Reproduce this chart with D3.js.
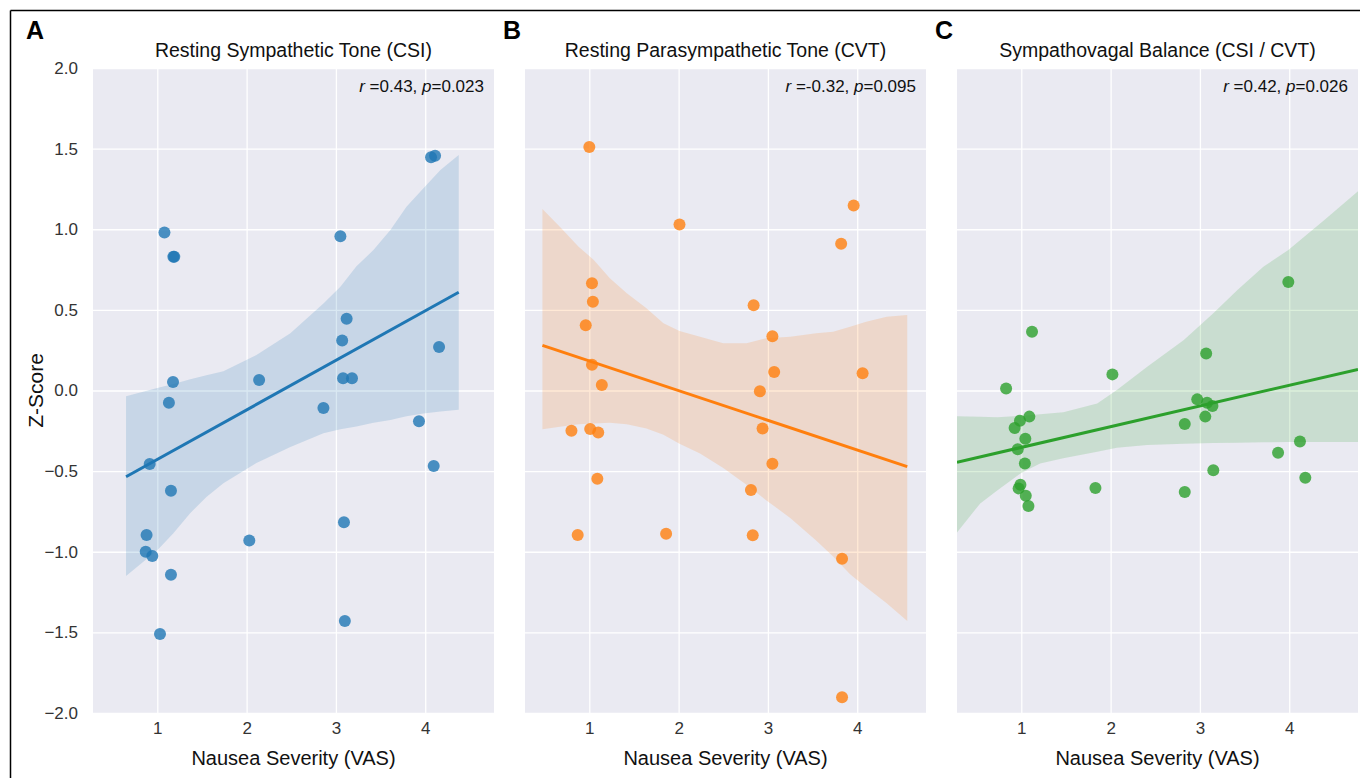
<!DOCTYPE html>
<html>
<head>
<meta charset="utf-8">
<script src="https://cdn.jsdelivr.net/npm/d3@7"></script>
<style>
  body { margin: 0; background: #fff; }
  text { font-family: "Liberation Sans", Arial, sans-serif; }
</style>
</head>
<body>
<script>
"use strict";

// panel labels and stats
var letters = ["A", "B", "C"];
var titles = ["Resting Sympathetic Tone (CSI)", "Resting Parasympathetic Tone (CVT)", "Sympathovagal Balance (CSI / CVT)"];
var rVals = ["0.43", "-0.32", "0.42"];
var pVals = ["0.023", "0.095", "0.026"];
var colors = ["#1f77b4", "#ff7f0e", "#2ca02c"];
var xTicks = [1, 2, 3, 4];
var yTicks = [-2, -1.5, -1, -0.5, 0, 0.5, 1, 1.5, 2];

// panel A : CSI
var csiX = [1.08, 1.18, 1.19, 3.05, 4.065, 4.11, 3.12, 3.07, 4.155, 1.176, 2.14, 3.08, 3.18, 1.13, 2.86, 3.93,
            4.095, 0.915, 1.153, 3.09, 0.88, 2.03, 0.87, 0.944, 1.153, 3.10, 1.03];
var csiY = [0.98, 0.83, 0.83, 0.956, 1.446, 1.456, 0.445, 0.31, 0.27, 0.053, 0.065, 0.076, 0.076, -0.076, -0.109, -0.19,
            -0.468, -0.456, -0.621, -0.817, -0.896, -0.93, -1.0, -1.026, -1.142, -1.43, -1.51];
var csiFit = [[0.65, -0.535], [4.375, 0.609]];
var csiBand = [[0.65, -1.15, -0.035], [1.0, -0.99, 0.015], [1.18, -0.886, 0.04], [1.37, -0.76, 0.07],
               [1.55, -0.66, 0.095], [1.74, -0.575, 0.12], [2.11, -0.45, 0.22], [2.49, -0.35, 0.355],
               [2.86, -0.265, 0.54], [3.05, -0.24, 0.644], [3.23, -0.224, 0.77], [3.42, -0.2, 0.871],
               [3.61, -0.183, 0.995], [3.79, -0.16, 1.14], [3.98, -0.142, 1.254], [4.17, -0.13, 1.367],
               [4.375, -0.12, 1.46]];

// panel B : CVT
var cvtX = [1.0, 2.01, 3.96, 3.82, 1.03, 1.04, 0.96, 2.84, 3.05, 1.03, 1.14, 3.07, 4.06, 2.91,
            0.80, 1.01, 1.10, 2.94, 3.05, 1.09, 2.81, 0.87, 1.86, 2.83, 3.83, 3.83];
var cvtY = [1.51, 1.03, 1.148, 0.91, 0.665, 0.551, 0.404, 0.528, 0.336, 0.16, 0.034, 0.115, 0.107, -0.005,
            -0.249, -0.239, -0.26, -0.235, -0.454, -0.547, -0.617, -0.896, -0.888, -0.898, -1.043, -1.903];
var cvtFit = [[0.475, 0.28], [4.56, -0.472]];
var cvtBand = [[0.475, -0.24, 1.125], [0.67, -0.225, 1.016], [0.88, -0.21, 0.892], [1.05, -0.205, 0.81],
               [1.23, -0.2, 0.696], [1.42, -0.21, 0.603], [1.64, -0.235, 0.51], [1.83, -0.275, 0.417],
               [2.01, -0.33, 0.369], [2.24, -0.39, 0.334], [2.50, -0.48, 0.293], [2.76, -0.585, 0.293],
               [2.98, -0.68, 0.324], [3.25, -0.79, 0.334], [3.54, -0.93, 0.355], [3.73, -1.03, 0.365],
               [3.92, -1.14, 0.396], [4.10, -1.22, 0.427], [4.33, -1.32, 0.458], [4.56, -1.43, 0.468]];

// panel C : CSI / CVT
var ratioX = [3.99, 1.12, 3.07, 2.02, 0.83, 2.97, 3.08, 3.14, 1.09, 3.06, 0.985, 0.925, 2.83,
              1.045, 0.96, 4.12, 3.875, 1.04, 3.15, 4.18, 0.99, 0.97, 1.83, 1.05, 2.83, 1.08];
var ratioY = [0.673, 0.365, 0.23, 0.1, 0.013, -0.055, -0.076, -0.096, -0.162, -0.162, -0.187, -0.233, -0.208,
              -0.299, -0.365, -0.317, -0.386, -0.452, -0.495, -0.541, -0.584, -0.607, -0.605, -0.652, -0.629, -0.716];
var ratioFit = [[0.28, -0.445], [4.77, 0.131]];
var ratioBand = [[0.28, -0.88, -0.16], [0.54, -0.70, -0.163], [0.73, -0.62, -0.166], [0.99, -0.514, -0.158],
                 [1.21, -0.452, -0.148], [1.47, -0.42, -0.135], [1.85, -0.38, -0.08], [2.07, -0.355, 0.003],
                 [2.41, -0.338, 0.148], [2.82, -0.33, 0.313], [3.15, -0.326, 0.479], [3.42, -0.324, 0.623],
                 [3.71, -0.321, 0.768], [3.99, -0.32, 0.871], [4.4, -0.32, 1.06], [4.77, -0.32, 1.235]];

var xs = [csiX, cvtX, ratioX];
var ys = [csiY, cvtY, ratioY];
var fits = [csiFit, cvtFit, ratioFit];
var bands = [csiBand, cvtBand, ratioBand];

//////////////////////
////LAYOUT/////////////
//////////////////////
var svgW = 1360, svgH = 778;
var lefts = [93, 525, 957];
var plotW = 401, plotTop = 68, plotH = 645;

var svg = d3.select("body").append("svg")
  .attr("width", svgW).attr("height", svgH);

// frame lines (figure border, cropped)
svg.append("line").attr("x1", 10.5).attr("x2", svgW).attr("y1", 10.5).attr("y2", 10.5)
  .attr("stroke", "#000").attr("stroke-width", 1.5);
svg.append("line").attr("x1", 10.5).attr("x2", 10.5).attr("y1", 10.5).attr("y2", svgH)
  .attr("stroke", "#000").attr("stroke-width", 1.5);

var y = d3.scaleLinear().domain([-2, 2]).range([plotTop + plotH, plotTop]);
var fmtY = function(d) { return d3.format(".1f")(d).replace("-", "\u2212"); };

for (var i = 0; i < 3; i++) {
  drawPanel(i);
}

function drawPanel (i) {
  var left = lefts[i];
  var x = d3.scaleLinear().domain([0.28, 4.77]).range([left, left + plotW]);
  var g = svg.append("g");
  var clipId = "clip" + i;

  svg.append("clipPath").attr("id", clipId).append("rect")
    .attr("x", left).attr("y", plotTop).attr("width", plotW).attr("height", plotH);

  g.append("rect").attr("x", left).attr("y", plotTop).attr("width", plotW).attr("height", plotH)
    .attr("fill", "#eaeaf2");

  // grid
  g.append("g").attr("transform", "translate(0," + (plotTop + plotH) + ")")
    .call(d3.axisBottom(x).tickValues(xTicks).tickSize(-plotH).tickFormat(""))
    .call(function(s) { s.select(".domain").remove(); })
    .selectAll("line").attr("stroke", "#fff").attr("stroke-width", 1.3);
  g.append("g").attr("transform", "translate(" + left + ",0)")
    .call(d3.axisLeft(y).tickValues(yTicks).tickSize(-plotW).tickFormat(""))
    .call(function(s) { s.select(".domain").remove(); })
    .selectAll("line").attr("stroke", "#fff").attr("stroke-width", 1.3);

  // tick labels
  var xa = g.append("g").attr("transform", "translate(0," + (plotTop + plotH + 6) + ")")
    .call(d3.axisBottom(x).tickValues(xTicks).tickSize(0).tickFormat(d3.format("d")));
  xa.select(".domain").remove();
  xa.selectAll("text").attr("font-size", 17).attr("fill", "#333")
    .attr("font-family", "Liberation Sans, Arial, sans-serif");

  if (i === 0) {
    var ya = g.append("g").attr("transform", "translate(" + (left - 12) + ",0)")
      .call(d3.axisLeft(y).tickValues(yTicks).tickSize(0).tickFormat(fmtY));
    ya.select(".domain").remove();
    ya.selectAll("text").attr("font-size", 17).attr("fill", "#333")
      .attr("font-family", "Liberation Sans, Arial, sans-serif");
    svg.append("text").attr("transform", "translate(43," + (plotTop + plotH / 2) + ") rotate(-90)")
      .attr("text-anchor", "middle").attr("font-size", 21).attr("fill", "#111").text("Z-Score");
  }

  // confidence band + fit line
  var plot = g.append("g").attr("clip-path", "url(#" + clipId + ")");
  var area = d3.area().x(function(d) { return x(d[0]); })
    .y0(function(d) { return y(d[1]); }).y1(function(d) { return y(d[2]); });
  plot.append("path").datum(bands[i]).attr("d", area)
    .attr("fill", colors[i]).attr("fill-opacity", 0.17);

  plot.selectAll("circle").data(xs[i].map(function(v, k) { return [v, ys[i][k]]; }))
    .enter().append("circle")
    .attr("cx", function(d) { return x(d[0]); })
    .attr("cy", function(d) { return y(d[1]); })
    .attr("r", 6)
    .attr("fill", colors[i]).attr("fill-opacity", 0.8);

  plot.append("path").datum(fits[i])
    .attr("d", d3.line().x(function(d) { return x(d[0]); }).y(function(d) { return y(d[1]); }))
    .attr("stroke", colors[i]).attr("stroke-width", 3).attr("fill", "none");

  // titles and letters
  svg.append("text").attr("x", left + plotW / 2).attr("y", 57).attr("text-anchor", "middle")
    .attr("font-size", 19.5).attr("fill", "#111").text(titles[i]);
  svg.append("text").attr("x", left + (i === 0 ? -67 : -22)).attr("y", 39)
    .attr("font-size", 25).attr("font-weight", "bold").attr("fill", "#000").text(letters[i]);
  svg.append("text").attr("x", left + plotW / 2).attr("y", plotTop + plotH + 52).attr("text-anchor", "middle")
    .attr("font-size", 20).attr("fill", "#111").text("Nausea Severity (VAS)");

  var ann = svg.append("text").attr("x", left + plotW - 10).attr("y", 92).attr("text-anchor", "end")
    .attr("font-size", 17).attr("fill", "#111");
  ann.append("tspan").attr("font-style", "italic").text("r");
  ann.append("tspan").text(" =" + rVals[i] + ", ");
  ann.append("tspan").attr("font-style", "italic").text("p");
  ann.append("tspan").text("=" + pVals[i]);
}
</script>
</body>
</html>
